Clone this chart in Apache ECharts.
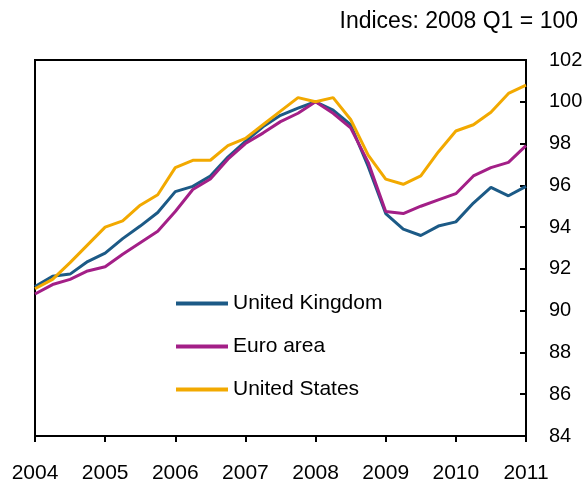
<!DOCTYPE html>
<html>
<head>
<meta charset="utf-8">
<script src="https://cdn.jsdelivr.net/npm/echarts@6/dist/echarts.min.js"></script>
<style>
  html, body { margin: 0; padding: 0; background: #fff; }
  #chart { width: 588px; height: 485px; }
</style>
</head>
<body>
<div id="chart"></div>
<script>
// quarters 2004 Q1 .. 2011 Q1
const quarters = []
for (let y = 2004; y <= 2011; y++) {
  for (let q = 1; q <= 4; q++) {
    if (y === 2011 && q > 1) break
    quarters.push(y + ' Q' + q)
  }
}

const yTicks = { min: 84, max: 102, step: 2 }

// Indices: 2008 Q1 = 100
const ukValues = [
  91.15, 91.65, 91.75, 92.35, 92.75, 93.45, 94.05, 94.7, 95.7, 95.95,
  96.45, 97.35, 98.1, 98.8, 99.35, 99.7, 100.0, 99.6, 98.9, 96.9,
  94.65, 93.9, 93.6, 94.05, 94.25, 95.15, 95.9, 95.5, 95.95
]
const euroValues = [
  90.8, 91.25, 91.5, 91.9, 92.1, 92.7, 93.25, 93.8, 94.75, 95.8,
  96.3, 97.25, 98.0, 98.5, 99.05, 99.45, 100.0, 99.45, 98.75, 97.1,
  94.75, 94.65, 95.0, 95.3, 95.6, 96.45, 96.85, 97.1, 97.9
]
const usValues = [
  91.05, 91.5, 92.3, 93.15, 94.0, 94.3, 95.05, 95.55, 96.85, 97.2,
  97.2, 97.9, 98.25, 98.9, 99.55, 100.2, 100.0, 100.2, 99.15, 97.45,
  96.3, 96.05, 96.45, 97.6, 98.6, 98.9, 99.5, 100.4, 100.8
]

const chart = echarts.init(document.getElementById('chart'), null, { renderer: 'canvas' })

const font = 'Liberation Sans, Arial, sans-serif'

const mkLine = (name, data, color) => ({
  name,
  type: 'line',
  data,
  symbol: 'none',
  smooth: false,
  lineStyle: { color, width: 3 },
  itemStyle: { color },
  z: 3
})

chart.setOption({
  animation: false,
  backgroundColor: '#fff',
  textStyle: { fontFamily: font, color: '#000' },
  title: {
    text: 'Indices: 2008 Q1 = 100',
    right: 10,
    top: 10,
    padding: 0,
    textStyle: { fontFamily: font, fontSize: 23, fontWeight: 'normal', color: '#000' }
  },
  grid: {
    left: 35,
    right: 62,
    top: 60,
    bottom: 49,
    show: true,
    borderColor: '#000',
    borderWidth: 2,
    backgroundColor: 'transparent'
  },
  legend: {
    orient: 'vertical',
    left: 176,
    top: 293,
    padding: 0,
    itemWidth: 52,
    itemHeight: 4,
    itemGap: 22,
    icon: 'rect',
    textStyle: { fontFamily: font, fontSize: 21, lineHeight: 21, color: '#000' },
    data: ['United Kingdom', 'Euro area', 'United States']
  },
  xAxis: {
    type: 'category',
    data: quarters,
    boundaryGap: false,
    axisLine: { lineStyle: { color: '#000', width: 2 } },
    axisTick: { interval: 3, length: 6, lineStyle: { color: '#000', width: 2 } },
    axisLabel: {
      interval: 3,
      margin: 27,
      fontFamily: font,
      fontSize: 21,
      color: '#000',
      formatter: v => v.slice(0, 4)
    },
    splitLine: { show: false }
  },
  yAxis: {
    type: 'value',
    position: 'right',
    min: yTicks.min,
    max: yTicks.max,
    interval: yTicks.step,
    axisLine: { show: true, lineStyle: { color: '#000', width: 2 } },
    axisTick: { show: true, inside: true, length: 6, lineStyle: { color: '#000', width: 2 } },
    axisLabel: {
      margin: 23,
      align: 'left',
      fontFamily: font,
      fontSize: 20,
      color: '#000'
    },
    splitLine: { show: false }
  },
  series: [
    mkLine('United Kingdom', ukValues, '#1c5a86'),
    mkLine('Euro area', euroValues, '#a31f87'),
    mkLine('United States', usValues, '#f2a900')
  ]
})
</script>
</body>
</html>
